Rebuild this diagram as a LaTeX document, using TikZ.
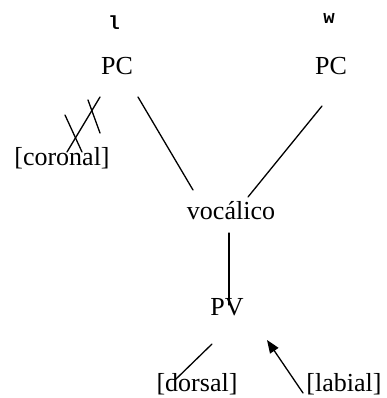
\documentclass[tikz,border=0pt]{standalone}
\usepackage{fontspec}
\setmainfont{Liberation Serif}
\setmonofont{Liberation Mono}
\usetikzlibrary{arrows.meta}
\tikzset{
  lab/.style={inner sep=0pt, font=\fontsize{26}{28}\selectfont},
  seg/.style={line width=1.3pt, line cap=round},
  tag/.style={inner sep=0pt, font=\fontsize{19}{20}\selectfont\ttfamily\bfseries}
}
\begin{document}
\begin{tikzpicture}[x=1pt,y=1pt]
\useasboundingbox (0,0) rectangle (386,398);
\node[tag] (l) at (114,375) {l};
\node[tag] (w) at (329,380) {w};
\node[lab] (pc1) at (117,332) {PC};
\node[lab] (pc2) at (331,332) {PC};
\node[lab] (cor) at (62,240) {[coronal]};
\node[lab] (voc) at (231,187) {vocálico};
\node[lab] (pv) at (227,91) {PV};
\node[lab] (dor) at (197,14) {[dorsal]};
\node[lab] (labi) at (344,14) {[labial]};
\draw[seg] ([shift={(-17,-31)}]pc1.center) -- ([shift={(5,6)}]cor.center);
\draw[seg] (65,283) -- (82,246);
\draw[seg] (88,298) -- (100,265);
\draw[seg] ([shift={(21,-31)}]pc1.center) -- ([shift={(-38,21)}]voc.center);
\draw[seg] ([shift={(-9,-40)}]pc2.center) -- ([shift={(17,14)}]voc.center);
\draw[seg] ([shift={(-2,-22)}]voc.center) -- ([shift={(2,2)}]pv.center);
\draw[seg] ([shift={(-15,-37)}]pv.center) -- ([shift={(-22,4)}]dor.center);
\draw[seg, -{Triangle[length=13pt,width=10pt]}] ([shift={(-41,-9)}]labi.center) -- ([shift={(40,-33)}]pv.center);
\end{tikzpicture}
\end{document}
